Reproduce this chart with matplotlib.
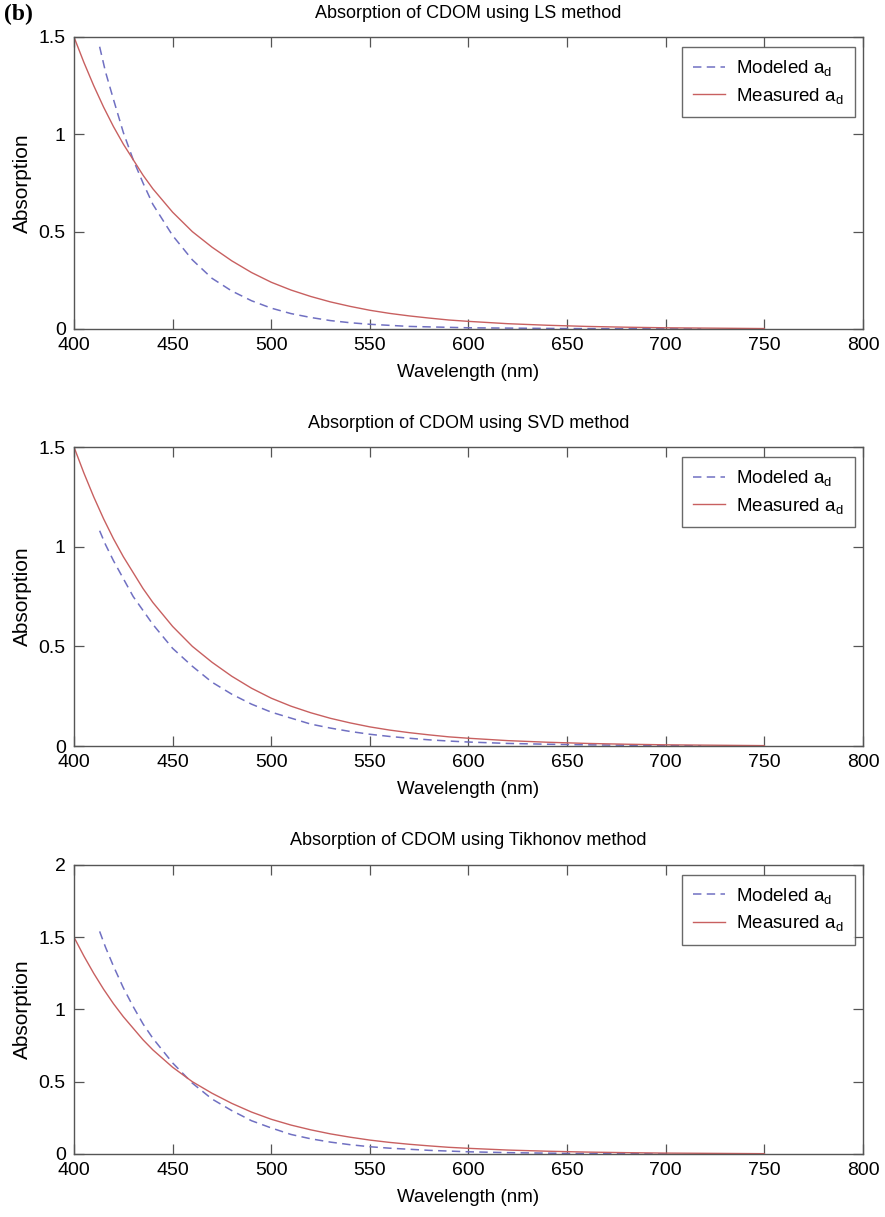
import matplotlib
matplotlib.use("Agg")
import matplotlib.pyplot as plt

plt.rcParams["font.family"] = ["Liberation Sans", "DejaVu Sans"]
plt.rcParams["mathtext.default"] = "regular"

# Measured CDOM absorption (same in all three panels)
measured_wl = [400, 405, 410, 415, 420, 425, 430, 435, 440, 450, 460, 470, 480, 490,
               500, 510, 520, 530, 540, 550, 560, 570, 580, 590, 600, 620, 640, 660,
               680, 700, 725, 750]
measured_abs = [1.50, 1.37, 1.25, 1.14, 1.04, 0.95, 0.87, 0.79, 0.72, 0.60, 0.50,
                0.42, 0.35, 0.29, 0.24, 0.20, 0.167, 0.139, 0.116, 0.096, 0.080,
                0.067, 0.056, 0.046, 0.039, 0.027, 0.019, 0.013, 0.009, 0.006,
                0.004, 0.002]

# Modeled absorption for each inversion method
ls_wl = [413, 416, 420, 425, 430, 435, 440, 450, 460, 470, 480, 490, 500, 510, 520,
         530, 540, 550, 570, 600, 650, 718]
ls_abs = [1.45, 1.32, 1.18, 1.01, 0.87, 0.75, 0.64, 0.48, 0.355, 0.26, 0.195, 0.145,
          0.107, 0.079, 0.059, 0.043, 0.032, 0.024, 0.013, 0.006, 0.002, 0.0]

svd_wl = [413, 416, 420, 425, 430, 435, 440, 450, 460, 470, 480, 490, 500, 510, 520,
          530, 540, 550, 560, 570, 580, 590, 600, 620, 640, 660, 680, 700, 718]
svd_abs = [1.08, 1.01, 0.93, 0.84, 0.75, 0.68, 0.61, 0.49, 0.40, 0.32, 0.26, 0.21,
           0.17, 0.14, 0.11, 0.09, 0.073, 0.059, 0.048, 0.039, 0.031, 0.025, 0.020,
           0.013, 0.009, 0.006, 0.004, 0.002, 0.001]

tik_wl = [413, 416, 420, 425, 430, 435, 440, 450, 460, 470, 480, 490, 500, 510, 520,
          530, 540, 550, 560, 580, 600, 620, 650, 703]
tik_abs = [1.54, 1.43, 1.30, 1.15, 1.02, 0.90, 0.80, 0.63, 0.49, 0.38, 0.30, 0.23,
           0.18, 0.135, 0.105, 0.082, 0.064, 0.05, 0.04, 0.025, 0.015, 0.009, 0.004,
           0.0]

panels = [
    ("Absorption of CDOM using LS method", ls_wl, ls_abs, [0, 0.5, 1, 1.5], ["0", "0.5", "1", "1.5"], 1.5),
    ("Absorption of CDOM using SVD method", svd_wl, svd_abs, [0, 0.5, 1, 1.5], ["0", "0.5", "1", "1.5"], 1.5),
    ("Absorption of CDOM using Tikhonov method", tik_wl, tik_abs, [0, 0.5, 1, 1.5, 2], ["0", "0.5", "1", "1.5", "2"], 2),
]
x_ticks = [400, 450, 500, 550, 600, 650, 700, 750, 800]

# axes boxes in figure fraction: left, bottom, width, height
boxes = [
    [0.0836, 0.7297, 0.8915, 0.2399],
    [0.0836, 0.3870, 0.8915, 0.2457],
    [0.0836, 0.0518, 0.8915, 0.2375],
]

fig = plt.figure(figsize=(8.85, 12.17), dpi=100)
spine_col = "#555555"

for box, (title, mwl, mabs, yt, ytl, ymax) in zip(boxes, panels):
    ax = fig.add_axes(box)
    ax.plot(mwl, mabs, color="#7070c2", lw=1.1, ls=(0, (5.5, 3.5)), label=r"Modeled a$_d$")
    ax.plot(measured_wl, measured_abs, color="#c86060", lw=1.0, label=r"Measured a$_d$")
    ax.set_xlim(400, 800)
    ax.set_ylim(0, ymax)
    ax.set_xticks(x_ticks)
    ax.set_yticks(yt)
    ax.set_yticklabels(ytl)
    ax.tick_params(direction="in", length=7, width=0.9, color=spine_col,
                   top=True, right=True, labelsize=14, pad=6)
    for sp in ax.spines.values():
        sp.set_color(spine_col)
        sp.set_linewidth(1.0)
    ax.set_title(title, fontsize=13, pad=14)
    ax.set_xlabel("Wavelength (nm)", fontsize=13.5, labelpad=7)
    ax.set_ylabel("Absorption", fontsize=15, labelpad=5)
    leg = ax.legend(loc="upper right", bbox_to_anchor=(0.99, 0.966), borderaxespad=0,
                    fontsize=13.5, frameon=True, fancybox=False, handlelength=1.7,
                    handletextpad=0.6, borderpad=0.6, labelspacing=0.4)
    leg.get_frame().set_edgecolor("#444444")
    leg.get_frame().set_linewidth(1.0)

fig.text(0.005, 0.997, "(b)", family="Liberation Serif", fontweight="bold",
         fontsize=17, va="top", ha="left")

fig.savefig("out.png", dpi=100)
